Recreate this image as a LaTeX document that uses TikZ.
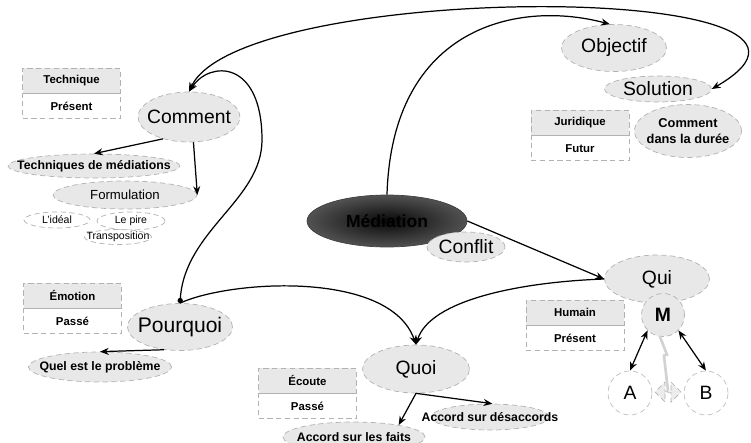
\documentclass[tikz,border=0pt]{standalone}
\usepackage{fontspec}
\setmainfont{Liberation Sans}
\usetikzlibrary{shapes.geometric, shapes.arrows, arrows.meta, positioning}

\tikzset{
  bulle/.style={ellipse, draw=gray!60, densely dashed, fill=gray!18, inner xsep=-1cm, inner ysep=0pt},
  grande/.style={bulle, font=\fontsize{11}{13}\selectfont},
  moyenne/.style={bulle, font=\bfseries\fontsize{7}{8.5}\selectfont},
  petite/.style={bulle, fill=white, font=\fontsize{6}{7}\selectfont},
  titre/.style={rectangle, draw=gray!60, densely dashed, fill=gray!18, minimum width=1.96cm, minimum height=0.5cm, inner sep=0pt, font=\bfseries\fontsize{6.5}{8}\selectfont},
  periode/.style={titre, fill=white},
  lien/.style={line width=0.7pt, -{Stealth[length=5pt,width=4pt]}},
  double lien/.style={line width=0.7pt, {Stealth[length=5pt,width=4pt]}-{Stealth[length=5pt,width=4pt]}},
}

\begin{document}
\begin{tikzpicture}[x=0.02cm, y=-0.02cm]

\clip (0,0) rectangle (751,443);

% Comment
\node[titre] (techTitre) at (71.5,80.5) {Technique};
\node[periode, below=0pt of techTitre] (techTemps) {Présent};
\node[grande, minimum width=2.04cm, minimum height=1.0cm] (comment) at (189,117) {Comment};
\node[moyenne, minimum width=3.44cm, minimum height=0.48cm] (techniques) at (94,166) {Techniques de médiations};
\node[moyenne, font=\fontsize{7.5}{9}\selectfont, minimum width=2.88cm, minimum height=0.56cm] (formulation) at (125,195) {Formulation};
\node[petite, minimum width=1.32cm, minimum height=0.32cm] (ideal) at (57,220) {L'idéal};
\node[petite, minimum width=1.36cm, minimum height=0.36cm] (pire) at (131,221) {Le pire};
\node[petite, minimum width=1.34cm, minimum height=0.3cm] (transpo) at (118,237) {Transposition};

% Objectif
\node[grande, minimum width=2.1cm, minimum height=0.94cm] (objectif) at (614,48) {Objectif};
\node[grande, minimum width=2.14cm, minimum height=0.52cm] (solution) at (658,89) {Solution};
\node[titre] (jurTitre) at (580,122.5) {Juridique};
\node[periode, below=0pt of jurTitre] (jurTemps) {Futur};
\node[moyenne, align=center, font=\bfseries\fontsize{7.3}{9}\selectfont, minimum width=2.14cm, minimum height=1.06cm] (duree) at (688,131) {Comment\\dans la durée};

% Mediation
\node[ellipse, draw=black!75, inner color=black!97, outer color=black!68, inner xsep=-1cm, inner ysep=0pt, minimum width=3.2cm, minimum height=1.04cm, font=\bfseries\fontsize{10}{12}\selectfont, text=black] (mediation) at (387,221) {Médiation};
\node[grande, minimum width=1.56cm, minimum height=0.6cm] (conflit) at (466,247) {Conflit};

% Qui
\node[grande, minimum width=2.1cm, minimum height=0.96cm] (qui) at (657,279) {Qui};
\node[circle, draw=gray!60, densely dashed, fill=gray!18, minimum size=0.86cm, inner sep=0pt, font=\bfseries\fontsize{11}{13}\selectfont] (m) at (663,315) {M};
\node[titre] (humTitre) at (575,312.5) {Humain};
\node[periode, below=0pt of humTitre] (humTemps) {Présent};
\node[circle, draw=gray!50, densely dashed, fill=white, minimum size=0.88cm, inner sep=0pt, font=\fontsize{11}{13}\selectfont] (a) at (630,393) {A};
\node[circle, draw=gray!50, densely dashed, fill=white, minimum size=0.88cm, inner sep=0pt, font=\fontsize{11}{13}\selectfont] (b) at (706,393) {B};
\node[double arrow, draw=gray!60, densely dashed, fill=gray!15, double arrow head extend=3pt, minimum width=0.4cm, minimum height=0.52cm, inner sep=0pt] (lienab) at (668,392) {};

% Pourquoi
\node[titre] (emoTitre) at (72.5,295.5) {Émotion};
\node[periode, below=0pt of emoTitre] (emoTemps) {Passé};
\node[grande, font=\fontsize{12}{14}\selectfont, minimum width=2.1cm, minimum height=0.94cm] (pourquoi) at (180,327) {Pourquoi};
\node[moyenne, minimum width=2.86cm, minimum height=0.6cm] (probleme) at (100,367) {Quel est le problème};

% Quoi
\node[grande, minimum width=2.14cm, minimum height=0.96cm] (quoi) at (416,369) {Quoi};
\node[titre] (ecoTitre) at (307.5,380.5) {Écoute};
\node[periode, below=0pt of ecoTitre] (ecoTemps) {Passé};
\node[moyenne, minimum width=2.36cm, minimum height=0.52cm] (desaccords) at (490,417) {Accord sur désaccords};
\node[moyenne, minimum width=2.84cm, minimum height=0.6cm] (faits) at (354,437) {Accord sur les faits};

% liaisons
\draw[double lien] (comment.north) .. controls (240,-20) and (900,-20) .. (solution.east);
\draw[lien] (mediation.north) .. controls (392,25) and (520,0) .. (objectif.100);
\draw[lien, {Circle[length=3pt]}-{Stealth[length=5pt,width=4pt]}] (pourquoi.north) .. controls (185,230) and (262,200) .. (262,140) .. controls (262,60) and (210,60) .. (comment.north);
\draw[lien] (pourquoi.north) .. controls (230,280) and (390,270) .. (quoi.north);
\draw[lien] (qui.west) .. controls (520,282) and (430,300) .. (quoi.north);
\draw[lien] (mediation.east) -- (qui.west);

\draw[lien] (comment.220) -- (techniques.north);
\draw[lien] (comment.280) -- (formulation.east);
\draw[lien] (pourquoi.235) -- (probleme.north);
\draw[lien] (quoi.south) -- (desaccords.80);
\draw[lien] (quoi.south) -- (faits.15);

\draw[double lien] (m.225) -- (a.north);
\draw[double lien] (m.315) -- (b.north);
\draw[gray!35, line width=1.5pt] (m.262) -- ++(7,18) -- ++(-3,1) -- (lienab.north);

\end{tikzpicture}
\end{document}
